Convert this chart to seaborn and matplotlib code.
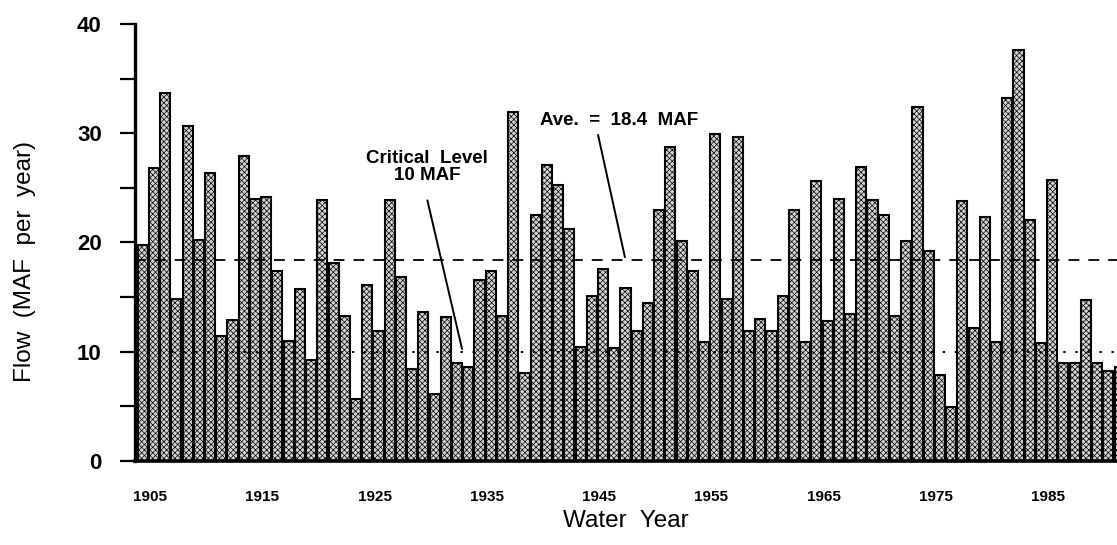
import seaborn as sns
import pandas as pd
import matplotlib.pyplot as plt

years = list(range(1905, 1993))
flows = [19.8, 26.8, 33.7, 14.8, 30.7, 20.2, 26.4, 11.4, 12.9, 27.9,
         24.0, 24.2, 17.4, 11.0, 15.7, 9.2, 23.9, 18.1, 13.3, 5.7,
         16.1, 11.9, 23.9, 16.8, 8.4, 13.6, 6.1, 13.2, 9.0, 8.6,
         16.6, 17.4, 13.3, 31.9, 8.1, 22.5, 27.1, 25.3, 21.2, 10.4,
         15.1, 17.6, 10.3, 15.8, 11.9, 14.5, 23.0, 28.7, 20.1, 17.4,
         10.9, 29.9, 14.8, 29.7, 11.9, 13.0, 11.9, 15.1, 23.0, 10.9,
         25.6, 12.8, 24.0, 13.5, 26.9, 23.9, 22.5, 13.3, 20.1, 32.4,
         19.2, 7.9, 4.9, 23.8, 12.2, 22.3, 10.9, 33.2, 37.6, 22.1,
         10.8, 25.7, 9.0, 9.0, 14.7, 9.0, 8.2, 8.6]
label_years = [1905, 1915, 1925, 1935, 1945, 1955, 1965, 1975, 1985]
average = 18.4
critical = 10

df = pd.DataFrame({'Year': years, 'Flow': flows})

sns.set_style('ticks')
plt.rcParams['font.family'] = ['Liberation Sans', 'DejaVu Sans']
plt.rcParams['hatch.linewidth'] = 0.5
for key in ['text.color', 'axes.labelcolor', 'xtick.color', 'ytick.color',
            'axes.edgecolor']:
    plt.rcParams[key] = 'black'

fig = plt.figure(figsize=(11.17, 5.45), dpi=100)
ax = fig.add_axes([0.1209, 0.1541, 0.8791, 0.8019])

sns.barplot(data=df, x='Year', y='Flow', native_scale=True, width=0.9,
            color='#d4d4d4', edgecolor='black', linewidth=1.5, ax=ax)
for p in ax.patches:
    p.set_hatch('xxxxxx')

ax.axhline(average, color='black', lw=1.3, ls=(0, (6, 5)), zorder=5)
ax.axhline(critical, color='black', lw=1.4, ls=(0, (1.2, 5)), zorder=5)

ax.set_xlim(1904.32, 1991.77)
ax.set_ylim(0, 40)
ax.set_yticks([0, 10, 20, 30, 40])
ax.set_yticks([5, 15, 25, 35], minor=True)
ax.set_xticks([y + 0.65 for y in label_years])
ax.set_xticklabels([str(y) for y in label_years], fontsize=11, fontweight='bold')
ax.tick_params(axis='x', length=0, pad=21)
ax.tick_params(axis='y', which='both', length=11, width=1.6, direction='out',
               labelsize=16, pad=13)
for t in ax.get_yticklabels():
    t.set_fontweight('bold')

sns.despine(ax=ax, top=True, right=True)
ax.spines['left'].set_linewidth(2.4)
ax.spines['bottom'].set_linewidth(2.6)

ax.set_xlabel('Water  Year', fontsize=17.5, labelpad=4)
ax.set_ylabel('')
fig.text(25 / 1117, 1 - 261 / 545, 'Flow  (MAF  per  year)', rotation=90,
         ha='center', va='center', fontsize=17.5)

ax.text(1930.3, 26.9, 'Critical  Level\n10 MAF', ha='center', va='center',
        fontsize=13.5, fontweight='bold', linespacing=1.05)
ax.annotate('', xy=(1933.5, critical), xytext=(1930.3, 24.1),
            arrowprops=dict(arrowstyle='-', lw=1.4, color='black'))

ax.text(1947.4, 31.2, 'Ave.  =  18.4  MAF', ha='center', va='center',
        fontsize=13.5, fontweight='bold')
ax.annotate('', xy=(1948.0, average), xytext=(1945.5, 30.1),
            arrowprops=dict(arrowstyle='-', lw=1.4, color='black'))

plt.savefig('out.png', dpi=100)
